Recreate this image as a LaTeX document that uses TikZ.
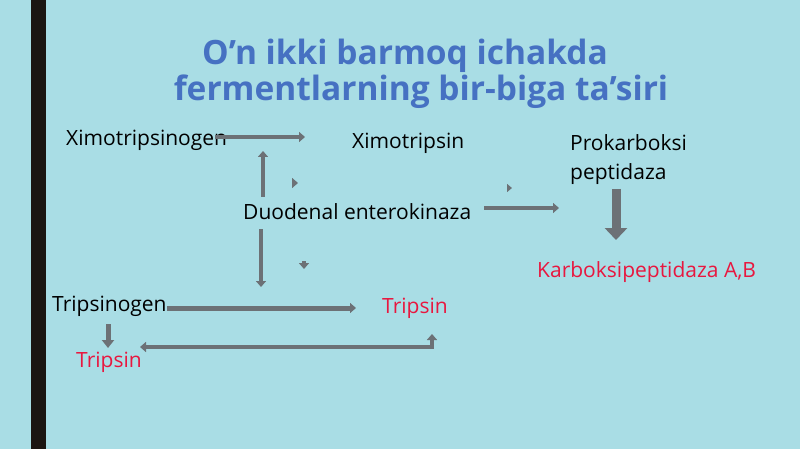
\documentclass[tikz,border=0pt]{standalone}
\usepackage{fontspec}
\setmainfont{Open Sans}
\usetikzlibrary{arrows.meta}
\definecolor{bgc}{HTML}{A9DDE5}
\definecolor{titc}{HTML}{4671C2}
\definecolor{redc}{HTML}{E8173F}
\definecolor{arrc}{HTML}{6C7176}
\definecolor{barc}{HTML}{1B1512}
\tikzset{
  lbl/.style={font=\fontsize{21}{29}\selectfont, text=black, inner sep=0pt, anchor=west},
  redlbl/.style={lbl, text=redc},
  ttl/.style={font=\fontsize{33.5}{36}\selectfont\bfseries, text=titc, inner sep=0pt},
  blk/.style={draw=arrc, line width=4pt, -{Triangle[width=10pt,length=6pt]}},
  blkw/.style={draw=arrc, line width=9pt, -{Triangle[width=22pt,length=12pt]}},
  tiny/.style={draw=arrc, line width=4pt, -{Triangle[width=10pt,length=6pt]}}
}
\begin{document}
\begin{tikzpicture}[x=1pt,y=-1pt]
\useasboundingbox (0,0) rectangle (800,449);
\fill[bgc] (0,0) rectangle (800,449);
\fill[barc] (31,0) rectangle (46,449);

% title
\node[ttl] (t1) at (405,56) {O’n ikki barmoq ichakda};
\node[ttl] (t2) at (421,92) {fermentlarning bir-biga ta’siri};

% labels
\node[lbl] (xg) at (66,140.5) {Ximotripsinogen};
\node[lbl] (xt) at (352,143.5) {Ximotripsin};
\node[lbl, align=left] (pk) at (570,159.5) {Prokarboksi\\peptidaza};
\node[lbl] (de) at (243,212) {Duodenal enterokinaza};
\node[redlbl] (kp) at (537,272.5) {Karboksipeptidaza A,B};
\node[lbl] (tg) at (52,306.5) {Tripsinogen};
\node[redlbl] (tr) at (382,308.5) {Tripsin};
\node[redlbl] (tl) at (76,362.5) {Tripsin};

% connector end points
\coordinate (a1s) at (215,137);
\coordinate (a1e) at (305,137);
\coordinate (a2s) at (263,197);
\coordinate (a2e) at (263,151);
\coordinate (a3s) at (484,208);
\coordinate (a3e) at (559,208);
\coordinate (a4s) at (616,189);
\coordinate (a4e) at (616,240);
\coordinate (a5s) at (261,229);
\coordinate (a5e) at (261,287);
\coordinate (a6s) at (167,308);
\coordinate (a6e) at (356,308);
\coordinate (a7s) at (108,324);
\coordinate (a7e) at (108,348);
\coordinate (a8s) at (432,334);
\coordinate (a8e) at (140,347);

% arrows
\draw[blk] (a1s) -- (a1e);
\draw[blk] (a2s) -- (a2e);
\draw[blk] (a3s) -- (a3e);
\draw[blkw] (a4s) -- (a4e);
\draw[blk] (a5s) -- (a5e);
\draw[blk, line width=5pt] (a6s) -- (a6e);
\draw[draw=arrc, line width=5pt, -{Triangle[width=12pt,length=8pt]}] (a7s) -- (a7e);
\draw[blk, {Triangle[width=10pt,length=6pt]}-{Triangle[width=10pt,length=6pt]}] (a8s) |- (a8e);

% small marks
\coordinate (m1) at (294,183);
\coordinate (m2) at (508,188);
\coordinate (m3) at (304,261);
\draw[tiny] (m1) -- ++(4,0);
\draw[draw=arrc, line width=3pt, -{Triangle[width=8pt,length=5pt]}] (m2) -- ++(4,0);
\draw[tiny] (m3) -- ++(0,8);
\end{tikzpicture}
\end{document}
